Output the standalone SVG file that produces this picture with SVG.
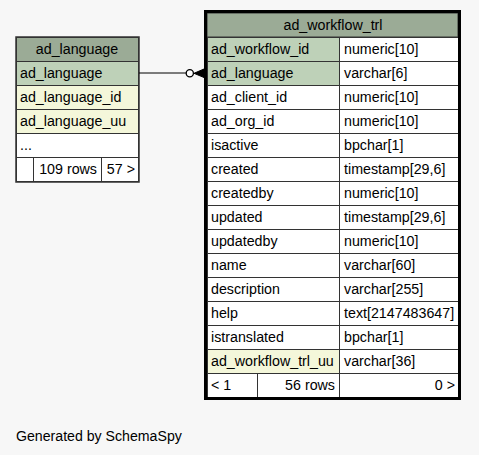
<svg xmlns="http://www.w3.org/2000/svg" width="479" height="455" viewBox="0 0 479 455">
<style>
text{font-family:"Liberation Sans",Arial,sans-serif;font-size:14.25px;fill:#000}
.c{stroke:#333;stroke-width:1}
.h{fill:#9bab96}
.k{fill:#bed1b8}
.i{fill:#f4f7da}
.w{fill:#fff}
.m{text-anchor:middle}
.r{text-anchor:end}
</style>
<rect x="0" y="0" width="479" height="455" fill="#f7f7f7"/>
<g id="ad_language">
<rect class="c h" x="16.5" y="37.5" width="122" height="24"/>
<text class="m" x="77" y="54">ad_language</text>
<rect class="c k" x="16.5" y="61.5" width="122" height="24"/>
<text x="20" y="78">ad_language</text>
<rect class="c i" x="16.5" y="85.5" width="122" height="24"/>
<text x="20" y="102">ad_language_id</text>
<rect class="c i" x="16.5" y="109.5" width="122" height="24"/>
<text x="20" y="126">ad_language_uu</text>
<rect class="c w" x="16.5" y="133.5" width="122" height="24"/>
<text x="20" y="150">...</text>
<rect class="c w" x="16.5" y="157.5" width="17" height="24"/>
<rect class="c w" x="33.5" y="157.5" width="68" height="24"/>
<rect class="c w" x="101.5" y="157.5" width="37" height="24"/>
<text class="r" x="97" y="174">109 rows</text>
<text class="r" x="135" y="174">57 &gt;</text>
<rect x="16" y="37" width="123" height="145" fill="none" stroke="#333" stroke-width="1.5"/>
</g>
<g id="ad_workflow_trl">
<rect x="205.5" y="11.5" width="254" height="387" fill="#fff"/>
<rect class="c h" x="207" y="13" width="251" height="24"/>
<text class="m" x="333" y="30">ad_workflow_trl</text>
<rect class="c k" x="207.5" y="37.5" width="132" height="24"/><rect class="c w" x="339.5" y="37.5" width="119" height="24"/>
<text x="211" y="54">ad_workflow_id</text><text x="344" y="54">numeric[10]</text>
<rect class="c k" x="207.5" y="61.5" width="132" height="24"/><rect class="c w" x="339.5" y="61.5" width="119" height="24"/>
<text x="211" y="78">ad_language</text><text x="344" y="78">varchar[6]</text>
<rect class="c w" x="207.5" y="85.5" width="132" height="24"/><rect class="c w" x="339.5" y="85.5" width="119" height="24"/>
<text x="211" y="102">ad_client_id</text><text x="344" y="102">numeric[10]</text>
<rect class="c w" x="207.5" y="109.5" width="132" height="24"/><rect class="c w" x="339.5" y="109.5" width="119" height="24"/>
<text x="211" y="126">ad_org_id</text><text x="344" y="126">numeric[10]</text>
<rect class="c w" x="207.5" y="133.5" width="132" height="24"/><rect class="c w" x="339.5" y="133.5" width="119" height="24"/>
<text x="211" y="150">isactive</text><text x="344" y="150">bpchar[1]</text>
<rect class="c w" x="207.5" y="157.5" width="132" height="24"/><rect class="c w" x="339.5" y="157.5" width="119" height="24"/>
<text x="211" y="174">created</text><text x="344" y="174">timestamp[29,6]</text>
<rect class="c w" x="207.5" y="181.5" width="132" height="24"/><rect class="c w" x="339.5" y="181.5" width="119" height="24"/>
<text x="211" y="198">createdby</text><text x="344" y="198">numeric[10]</text>
<rect class="c w" x="207.5" y="205.5" width="132" height="24"/><rect class="c w" x="339.5" y="205.5" width="119" height="24"/>
<text x="211" y="222">updated</text><text x="344" y="222">timestamp[29,6]</text>
<rect class="c w" x="207.5" y="229.5" width="132" height="24"/><rect class="c w" x="339.5" y="229.5" width="119" height="24"/>
<text x="211" y="246">updatedby</text><text x="344" y="246">numeric[10]</text>
<rect class="c w" x="207.5" y="253.5" width="132" height="24"/><rect class="c w" x="339.5" y="253.5" width="119" height="24"/>
<text x="211" y="270">name</text><text x="344" y="270">varchar[60]</text>
<rect class="c w" x="207.5" y="277.5" width="132" height="24"/><rect class="c w" x="339.5" y="277.5" width="119" height="24"/>
<text x="211" y="294">description</text><text x="344" y="294">varchar[255]</text>
<rect class="c w" x="207.5" y="301.5" width="132" height="24"/><rect class="c w" x="339.5" y="301.5" width="119" height="24"/>
<text x="211" y="318">help</text><text x="344" y="318">text[2147483647]</text>
<rect class="c w" x="207.5" y="325.5" width="132" height="24"/><rect class="c w" x="339.5" y="325.5" width="119" height="24"/>
<text x="211" y="342">istranslated</text><text x="344" y="342">bpchar[1]</text>
<rect class="c i" x="207.5" y="349.5" width="132" height="24"/><rect class="c w" x="339.5" y="349.5" width="119" height="24"/>
<text x="211" y="366">ad_workflow_trl_uu</text><text x="344" y="366">varchar[36]</text>
<rect class="c w" x="207.5" y="373.5" width="50" height="24"/><rect class="c w" x="257.5" y="373.5" width="82" height="24"/><rect class="c w" x="339.5" y="373.5" width="119" height="24"/>
<text x="211" y="390">&lt; 1</text><text class="r" x="335" y="390">56 rows</text><text class="r" x="455" y="390">0 &gt;</text>
<rect x="205.5" y="11.5" width="254" height="387" fill="none" stroke="#000" stroke-width="3"/>
</g>
<g id="connectors" fill="none" stroke="#000" stroke-width="1">
<line x1="139" y1="73" x2="186" y2="73"/>
<circle cx="189.8" cy="73.3" r="3.6" fill="#fff" stroke-width="1.3"/>
<path d="M204 69 L194 73.3 L204 77.5 Z" fill="#000" stroke-width="1"/>
</g>
<text x="16" y="441" style="font-size:14.15px">Generated by SchemaSpy</text>
</svg>
